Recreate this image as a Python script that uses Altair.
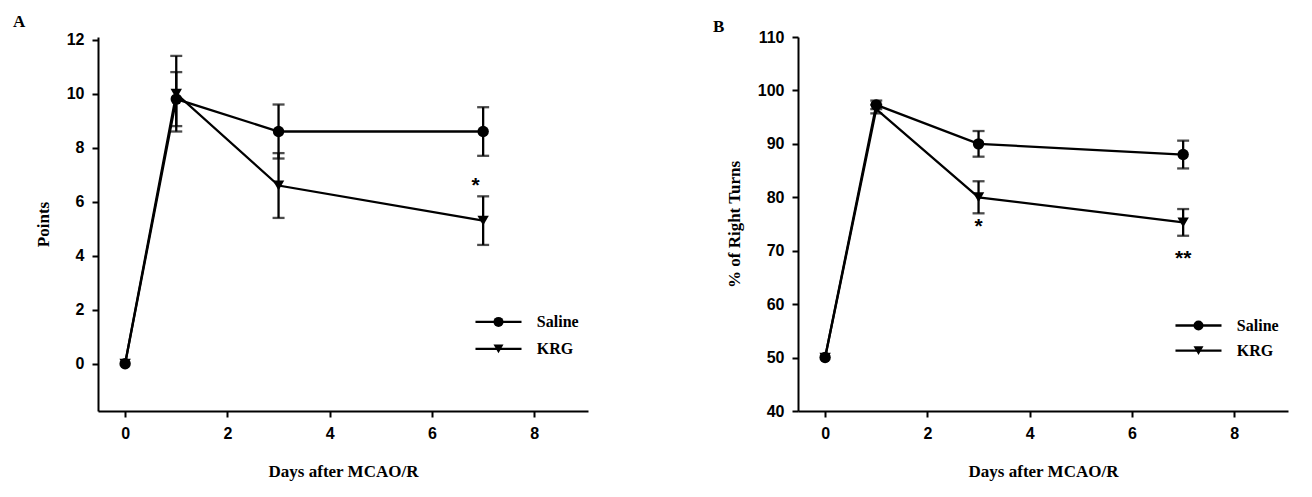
import pandas as pd
import altair as alt

days = [0, 1, 3, 7]

# panel A: neurological score
a_saline = [0, 9.8, 8.6, 8.6]
a_saline_err = [0, 1.0, 1.0, 0.9]
a_krg = [0, 10.0, 6.6, 5.3]
a_krg_err = [0, 1.4, 1.2, 0.9]

# panel B: corner test
b_saline = [50, 97.3, 90.0, 88.0]
b_saline_err = [0, 0.8, 2.4, 2.6]
b_krg = [50, 96.5, 80.0, 75.3]
b_krg_err = [0, 0.8, 3.0, 2.5]

groups = ["Saline", "KRG"]


def frame(sal, sal_err, krg, krg_err):
    rows = []
    for g, vals, errs in [("Saline", sal, sal_err), ("KRG", krg, krg_err)]:
        for d, v, e in zip(days, vals, errs):
            rows.append({"day": d, "val": v, "lo": v - e, "hi": v + e, "group": g})
    return pd.DataFrame(rows)


TICK_FONT = "Liberation Sans"
SERIF = "Liberation Serif"


def panel(df, ydom, yticks, ytitle, stars, legend_y, legend_dy, letter, letter_y):
    xs = alt.Scale(domain=[-0.53, 9.05], nice=False)
    ys = alt.Scale(domain=ydom, nice=False, zero=False)
    x = alt.X("day:Q", scale=xs, title="Days after MCAO/R",
              axis=alt.Axis(values=[0, 2, 4, 6, 8], titlePadding=22))
    y = alt.Y("val:Q", scale=ys, title=ytitle, axis=alt.Axis(values=yticks, titlePadding=14))
    shape = alt.Shape("group:N", scale=alt.Scale(domain=groups, range=["circle", "triangle-down"]), legend=None)

    base = alt.Chart(df)
    lines = base.mark_line(color="black", strokeWidth=2.3).encode(x=x, y=y, detail="group:N")
    errs = base.transform_filter("datum.hi > datum.lo").mark_rule(color="black", strokeWidth=2.3).encode(
        x="day:Q", y="lo:Q", y2="hi:Q")
    caps_lo = base.transform_filter("datum.hi > datum.lo").mark_tick(
        color="black", orient="horizontal", size=12, thickness=2.3).encode(x="day:Q", y="lo:Q")
    caps_hi = base.transform_filter("datum.hi > datum.lo").mark_tick(
        color="black", orient="horizontal", size=12, thickness=2.3).encode(x="day:Q", y="hi:Q")
    pts = base.mark_point(filled=True, color="black", size=130, opacity=1).encode(x="day:Q", y="val:Q", shape=shape)

    sdf = pd.DataFrame(stars, columns=["day", "val", "txt"])
    star = alt.Chart(sdf).mark_text(fontSize=21, font=TICK_FONT, fontWeight="bold").encode(
        x="day:Q", y="val:Q", text="txt:N")

    # legend
    ldf = pd.DataFrame({"group": groups, "y": [legend_y, legend_y - legend_dy],
                        "x1": [6.85, 6.85], "x2": [7.75, 7.75], "xm": [7.3, 7.3], "xt": [8.05, 8.05]})
    lbase = alt.Chart(ldf)
    lrule = lbase.mark_rule(color="black", strokeWidth=2.3).encode(x="x1:Q", x2="x2:Q", y="y:Q")
    lpt = lbase.mark_point(filled=True, color="black", size=100, opacity=1).encode(x="xm:Q", y="y:Q", shape=shape)
    ltxt = lbase.mark_text(align="left", font=SERIF, fontWeight="bold", fontSize=16).encode(
        x="xt:Q", y="y:Q", text="group:N")

    lab = alt.Chart(pd.DataFrame({"t": [letter]})).mark_text(
        font=SERIF, fontWeight="bold", fontSize=17, align="left").encode(
        x=alt.value(-85), y=alt.value(letter_y), text="t:N")

    return alt.layer(lines, errs, caps_lo, caps_hi, pts, star, lrule, lpt, ltxt, lab).properties(
        width=490, height=374)


dfa = frame(a_saline, a_saline_err, a_krg, a_krg_err)
dfb = frame(b_saline, b_saline_err, b_krg, b_krg_err)

pa = panel(dfa, [-1.75, 12.1], [0, 2, 4, 6, 8, 10, 12], "Points",
           [(6.85, 6.6, "*")], 1.55, 1.0, "A", -15)
pb = panel(dfb, [40, 110], [40, 50, 60, 70, 80, 90, 100, 110], "% of Right Turns",
           [(3, 74.5, "*"), (7, 68.5, "**")], 56.0, 4.7, "B", -10)

chart = alt.hconcat(pa, pb, spacing=125).configure(background="white").configure_view(
    stroke=None).configure_axis(
    grid=False, domainColor="black", domainWidth=2, tickColor="black", tickWidth=2, tickSize=6,
    labelFont=TICK_FONT, labelFontWeight="bold", labelFontSize=16, labelColor="black", labelPadding=8,
    titleFont=SERIF, titleFontWeight="bold", titleFontSize=17, titleColor="black"
)

chart.save("out.html", embed_options={"renderer": "svg", "actions": False})
